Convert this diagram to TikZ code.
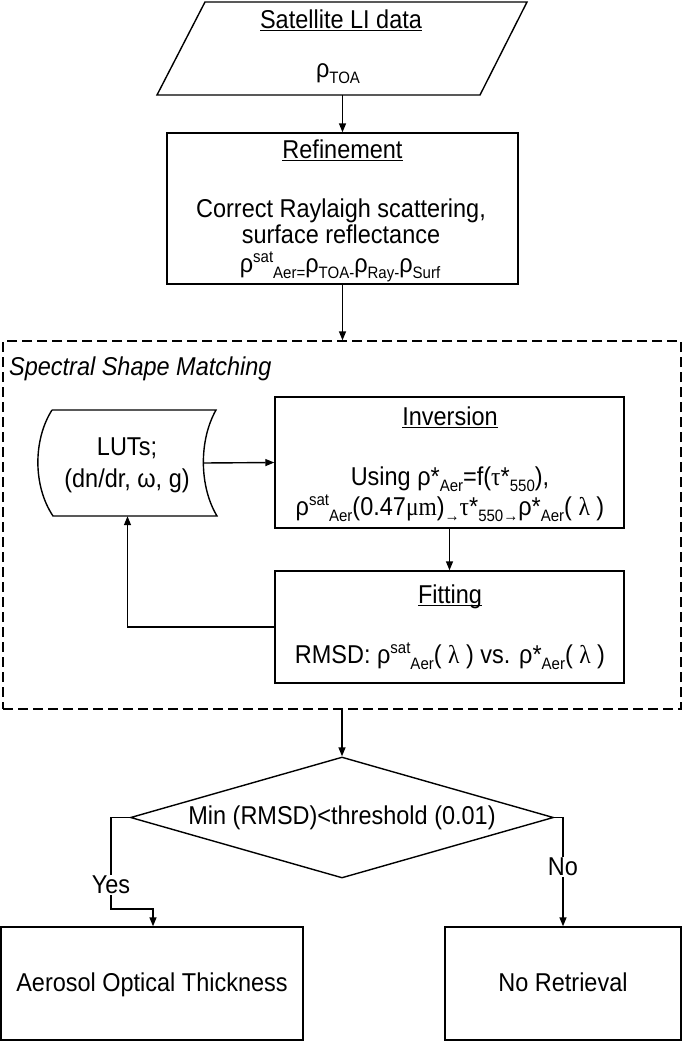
\documentclass[tikz,border=0pt]{standalone}
\usepackage{fontspec}
\setmainfont{Liberation Sans}[FakeStretch=0.91]
\newfontfamily\serf{Liberation Serif}[FakeStretch=0.91]
\usetikzlibrary{arrows.meta,shapes.geometric}
\newcommand\lo[1]{\raisebox{-0.25em}{\fontsize{16.5}{16.5}\selectfont #1}}
\newcommand\hi[1]{\raisebox{0.38em}{\fontsize{16.5}{16.5}\selectfont #1}}
\newcommand\ser[1]{{\serf #1}}
\newcommand\ulin[1]{\setbox0\hbox{#1}\rlap{\rule[-3pt]{\wd0}{1.1pt}}\box0}
\tikzset{
  every node/.style={font=\fontsize{25.8}{25.8}\selectfont},
  shape line/.style={line width=1.4pt},
  box/.style={draw, line width=1.4pt, inner sep=0pt},
  txt/.style={anchor=base, inner sep=0pt},
  arr/.style={line width=1.4pt, -{Triangle[length=9pt,width=7pt]}},
}
\begin{document}
\begin{tikzpicture}[x=1pt,y=-1pt]
\useasboundingbox (0,0) rectangle (683,1042);
% Satellite data parallelogram
\draw[shape line] (205,2) -- (527,2) -- (480,95) -- (157,95) -- cycle;
\coordinate (satb) at (342.5,95);
\node[txt] (t1) at (341,28) {\ulin{Satellite LI data}};
\node[txt] (t2) at (338,77) {ρ\lo{TOA}};
% Refinement
\node[box, minimum width=351, minimum height=151] (ref) at (342.5,208.5) {};
\node[txt] (t3) at (342.5,158) {\ulin{Refinement}};
\node[txt] (t4) at (341,217) {Correct Raylaigh scattering,};
\node[txt] (t5) at (341,243) {surface reflectance};
\node[txt] (t6) at (340,272) {ρ\hi{sat}\lo{Aer=}ρ\lo{TOA-}ρ\lo{Ray-}ρ\lo{Surf}};
% Spectral shape matching
\node[draw, line width=1.4pt, dash pattern=on 10pt off 5pt, minimum width=678, minimum height=368, inner sep=0pt] (ssm) at (342,525) {};
\node[anchor=base west, inner sep=0pt] (t7) at (9,375) {\itshape Spectral Shape Matching};
% LUTs
\draw[shape line] (52,410) -- (216,410) .. controls (199,440) and (199,486) .. (217,516) -- (53,516) .. controls (33,486) and (33,440) .. (52,410);
\node[minimum width=151, minimum height=106, inner sep=0pt] (lut) at (127.5,463) {};
\node[txt] (t8) at (127,455) {LUTs;};
\node[txt] (t9) at (127,487) {(dn/dr, ω, g)};
% Inversion
\node[box, minimum width=349, minimum height=131] (inv) at (449.5,462.5) {};
\node[txt] (t10) at (450,425) {\ulin{Inversion}};
\node[txt] (t11) at (450,485) {Using ρ*\lo{Aer}=f(\ser{τ}*\lo{550}),};
\node[txt] (t12) at (450,515) {ρ\hi{sat}\lo{Aer}(0.47\ser{μm})\lo{→}\ser{τ}*\lo{550→}ρ*\lo{Aer}( \ser{λ} )};
% Fitting
\node[box, minimum width=349, minimum height=112] (fit) at (449.5,627) {};
\node[txt] (t13) at (450,603) {\ulin{Fitting}};
\node[txt] (t14) at (450,663) {RMSD: ρ\hi{sat}\lo{Aer}( \ser{λ} ) vs. ρ*\lo{Aer}( \ser{λ} )};
% Decision
\node[diamond, draw, line width=1.4pt, minimum width=423, minimum height=121, inner sep=0pt] (dia) at (342,817.5) {};
\node[txt] (t15) at (342,824) {Min (RMSD)<threshold (0.01)};
% Outputs
\node[box, minimum width=302, minimum height=113] (aot) at (152,983.5) {};
\node[txt] (t16) at (152,991) {Aerosol Optical Thickness};
\node[box, minimum width=236, minimum height=113] (nor) at (563,983.5) {};
\node[txt] (t17) at (563,991) {No Retrieval};
% Connectors
\draw[arr] (satb) -- (ref.north);
\draw[arr] (ref.south) -- (ref.south |- ssm.north);
\draw[arr] (lut.east) -- (inv.west);
\draw[arr] (inv.south) -- (fit.north);
\draw[arr] (fit.west) -| (lut.south);
\draw[arr] (ssm.south) -- (dia.north);
\coordinate (y1) at (111,909);
\coordinate (y2) at (153,909);
\draw[arr] (dia.west) -| (y1) -- (y2) -- (y2 |- aot.north);
\draw[arr] (dia.east) -| (nor.north);
\node[fill=white, inner sep=1pt] (yes) at (111,885) {Yes};
\node[fill=white, inner sep=1pt] (no) at (563,867) {No};
\end{tikzpicture}
\end{document}
